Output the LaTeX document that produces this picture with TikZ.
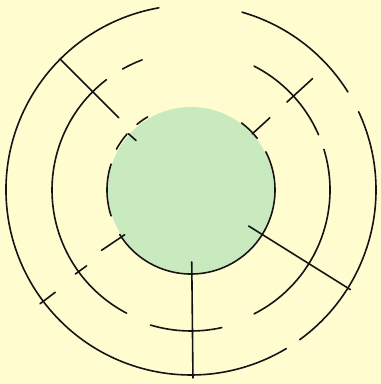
\documentclass[tikz,border=0pt]{standalone}
\usepackage{tikz}
\definecolor{bgyellow}{RGB}{255,252,208}
\definecolor{discgreen}{RGB}{200,234,190}
\definecolor{inkline}{RGB}{20,20,20}
\tikzset{
  ringline/.style={draw=inkline, line width=1.6pt, line cap=round},
  spoke/.style={draw=inkline, line width=1.6pt, line cap=round}
}
\newcommand{\ringarc}[3]{\draw[ringline] ([shift={(#2:#1)}]C) arc[start angle=#2, end angle=#3, radius=#1];}
\newcommand{\spokeseg}[3]{\draw[spoke] ([shift={(#1:#2)}]C) -- ([shift={(#1:#3)}]C);}
\begin{document}
\begin{tikzpicture}[x=1pt,y=1pt]
\fill[bgyellow] (0,0) rectangle (381,384);
\useasboundingbox (0,0) rectangle (381,384);
\coordinate (C) at (191,194);
% green disc
\fill[discgreen] (C) circle[radius=83];
% outer ring
\ringarc{185}{100}{301}
\ringarc{185}{-54}{25}
\ringarc{185}{32}{74}
% middle ring
\ringarc{139}{127.5}{242.4}
\ringarc{139}{110.6}{119.5}
\ringarc{139}{23.4}{63}
\ringarc{139}{-63}{17}
\ringarc{141}{-106.7}{-77.4}
% inner ring
\ringarc{84}{-148}{27}
\ringarc{84}{38}{53}
\ringarc{85}{120.7}{129.4}
\ringarc{85}{138.8}{151.3}
\ringarc{84}{162}{198}
% spokes
\spokeseg{135}{185}{102}
\spokeseg{138}{74}{84}
\spokeseg{42.5}{130}{165}
\spokeseg{42.5}{83}{107}
\spokeseg{214}{80}{108}
\spokeseg{216}{129}{143}
\spokeseg{217}{170}{189}
\spokeseg{-32}{68}{188}
\spokeseg{-89.4}{72}{188}
\end{tikzpicture}
\end{document}
